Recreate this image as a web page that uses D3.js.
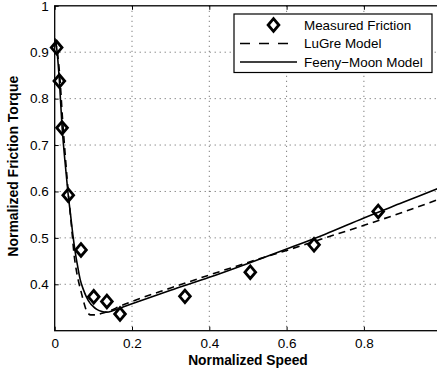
<!DOCTYPE html>
<html><head><meta charset="utf-8">
<script src="https://cdn.jsdelivr.net/npm/d3@7"></script>
<style>
html,body{margin:0;padding:0;background:#fff;}
svg{display:block;font-family:"Liberation Sans",Arial,Helvetica,sans-serif;}
</style></head>
<body>
<svg id="chart" width="437" height="375"></svg>
<script>
// ---- data ----
const measuredSpeed  = [0.005, 0.012, 0.019, 0.035, 0.068, 0.101, 0.135, 0.169, 0.337, 0.506, 0.671, 0.837];
const measuredTorque = [0.910, 0.838, 0.737, 0.592, 0.474, 0.373, 0.363, 0.336, 0.374, 0.426, 0.485, 0.557];

const lugreSpeed  = [0.000, 0.006, 0.013, 0.020, 0.028, 0.036, 0.044, 0.050, 0.056, 0.062, 0.068, 0.074, 0.080, 0.086, 0.093, 0.105, 0.120, 0.140, 0.170, 0.200, 0.300, 0.400, 0.500, 0.600, 0.700, 0.800, 0.900, 1.000];
const lugreTorque = [0.925, 0.905, 0.850, 0.760, 0.670, 0.590, 0.520, 0.465, 0.430, 0.405, 0.385, 0.365, 0.348, 0.338, 0.334, 0.334, 0.337, 0.342, 0.353, 0.363, 0.392, 0.420, 0.447, 0.473, 0.500, 0.527, 0.555, 0.585];

const feenySpeed  = [0.000, 0.005, 0.012, 0.019, 0.026, 0.034, 0.041, 0.048, 0.053, 0.058, 0.066, 0.074, 0.082, 0.091, 0.100, 0.109, 0.120, 0.135, 0.150, 0.170, 0.200, 0.300, 0.400, 0.500, 0.600, 0.700, 0.800, 0.900, 1.000];
const feenyTorque = [0.930, 0.910, 0.840, 0.740, 0.670, 0.600, 0.550, 0.500, 0.470, 0.445, 0.410, 0.389, 0.373, 0.360, 0.352, 0.346, 0.342, 0.340, 0.343, 0.349, 0.358, 0.387, 0.415, 0.445, 0.476, 0.508, 0.543, 0.576, 0.609];

const xTicks = [0, 0.2, 0.4, 0.6, 0.8];
const yTicks = [0.4, 0.5, 0.6, 0.7, 0.8, 0.9, 1];
const xTickLabels = ["0", "0.2", "0.4", "0.6", "0.8"];
const yTickLabels = ["0.4", "0.5", "0.6", "0.7", "0.8", "0.9", "1"];
const legendLabels = ["Measured Friction", "LuGre Model", "Feeny\u2212Moon Model"];
const xLabel = "Normalized Speed";
const yLabel = "Normalized Friction Torque";

// ---- layout ----
const L = 54.7, R = 441.2, T = 5.8, B = 330.7;
const svg = d3.select("#chart");
const x = d3.scaleLinear().domain([0, 1]).range([L, R]);
const y = d3.scaleLinear().domain([0.3, 1]).range([B, T]);

// grid
const grid = svg.append("g").attr("stroke", "#333").attr("stroke-width", 0.8).attr("stroke-dasharray", "1,4");
grid.selectAll(".gx").data(xTicks.filter(d => d > 0)).join("line")
  .attr("x1", d => x(d)).attr("x2", d => x(d)).attr("y1", T).attr("y2", B);
grid.selectAll(".gy").data(yTicks.filter(d => d < 1)).join("line")
  .attr("y1", d => y(d)).attr("y2", d => y(d)).attr("x1", L).attr("x2", R);

// clip
svg.append("clipPath").attr("id", "clip").append("rect")
  .attr("x", L).attr("y", T).attr("width", R - L).attr("height", B - T);

const line = d3.line().x(d => x(d[0])).y(d => y(d[1])).curve(d3.curveMonotoneX);
const plot = svg.append("g").attr("clip-path", "url(#clip)");

plot.append("path").datum(d3.zip(lugreSpeed, lugreTorque))
  .attr("d", line).attr("fill", "none").attr("stroke", "#000")
  .attr("stroke-width", 1.6).attr("stroke-dasharray", "7,5");
plot.append("path").datum(d3.zip(feenySpeed, feenyTorque))
  .attr("d", line).attr("fill", "none").attr("stroke", "#000")
  .attr("stroke-width", 1.6);

// diamonds
const dr = 6.3;
const diamond = `M0,${-dr}L${dr*0.85},0L0,${dr}L${-dr*0.85},0Z`;
svg.append("g").selectAll("path").data(d3.zip(measuredSpeed, measuredTorque)).join("path")
  .attr("transform", d => `translate(${x(d[0])},${y(d[1])})`)
  .attr("d", diamond).attr("fill", "none").attr("stroke", "#000").attr("stroke-width", 2.8);

// axes
const fs = 13.5;
const xAxis = d3.axisBottom(x).tickValues(xTicks).tickSize(-4).tickPadding(8)
  .tickFormat((d, i) => xTickLabels[i]);
const yAxis = d3.axisLeft(y).tickValues(yTicks).tickSize(-4).tickPadding(6)
  .tickFormat((d, i) => yTickLabels[i]);
const xTop = d3.axisTop(x).tickValues(xTicks).tickSize(-4).tickFormat("");
const yRight = d3.axisRight(y).tickValues(yTicks).tickSize(-4).tickFormat("");

function styleAxis(g) {
  g.select(".domain").remove();
  g.selectAll(".tick line").attr("stroke", "#000").attr("stroke-width", 1);
  g.selectAll(".tick text").attr("fill", "#000").style("font-size", fs + "px")
    .style("font-family", '"Liberation Sans",Arial,sans-serif');
}
svg.append("g").attr("transform", `translate(0,${B})`).call(xAxis).call(styleAxis);
svg.append("g").attr("transform", `translate(${L},0)`).call(yAxis).call(styleAxis);
svg.append("g").attr("transform", `translate(0,${T})`).call(xTop).call(styleAxis);
svg.append("g").attr("transform", `translate(${R},0)`).call(yRight).call(styleAxis);

// box
svg.append("rect").attr("x", L).attr("y", T).attr("width", R - L).attr("height", B - T)
  .attr("fill", "none").attr("stroke", "#000").attr("stroke-width", 1.3);

// axis labels
svg.append("text").attr("x", (L + R) / 2).attr("y", 365).attr("text-anchor", "middle")
  .style("font-size", "13.8px").style("font-weight", "bold").text(xLabel);
svg.append("text").attr("transform", `translate(18,${(T + B) / 2 - 2}) rotate(-90)`)
  .attr("text-anchor", "middle").style("font-size", "14px").style("font-weight", "bold").text(yLabel);

// legend
const lg = svg.append("g");
lg.append("rect").attr("x", 234).attr("y", 14).attr("width", 198).attr("height", 58.5)
  .attr("fill", "#fff").attr("stroke", "#000").attr("stroke-width", 1.2);
const rowY = [25, 43.5, 62];
const sx1 = 240, sx2 = 297;
lg.append("path").attr("transform", `translate(${(sx1 + sx2) / 2 + 5},${rowY[0]})`)
  .attr("d", diamond).attr("fill", "none").attr("stroke", "#000").attr("stroke-width", 2.8);
lg.append("line").attr("x1", sx1).attr("x2", sx2).attr("y1", rowY[1]).attr("y2", rowY[1])
  .attr("stroke", "#000").attr("stroke-width", 1.6).attr("stroke-dasharray", "10,9");
lg.append("line").attr("x1", sx1).attr("x2", sx2).attr("y1", rowY[2]).attr("y2", rowY[2])
  .attr("stroke", "#000").attr("stroke-width", 1.6);
lg.selectAll("text.lt").data(legendLabels).join("text")
  .attr("x", 304).attr("y", (d, i) => rowY[i]).attr("dy", "0.35em")
  .style("font-size", "13.4px").text(d => d);
</script>
</body></html>
